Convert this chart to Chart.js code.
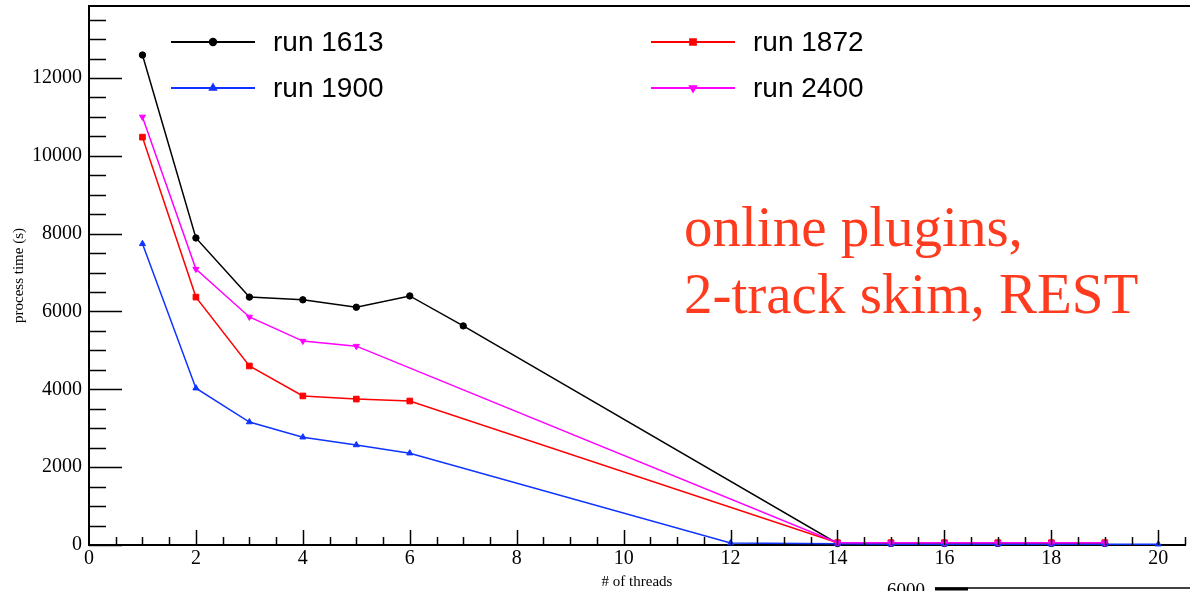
<!DOCTYPE html>
<html>
<head>
<meta charset="utf-8">
<script src="https://cdn.jsdelivr.net/npm/chart.js@4"></script>
<style>
  html, body { margin: 0; padding: 0; background: #fff; }
  #wrap { position: relative; width: 1190px; height: 591px; }
</style>
</head>
<body>
<div id="wrap"><canvas id="threadsChart" width="1190" height="591"></canvas></div>
<script>
// Process time vs number of threads, per run
const threads1613 = [1, 2, 3, 4, 5, 6, 7, 14, 15, 16, 17, 18, 19];
const time1613 = [12590, 7890, 6370, 6300, 6110, 6400, 5630, 40, 40, 40, 40, 40, 40];

const threads1872 = [1, 2, 3, 4, 5, 6, 14, 15, 16, 17, 18, 19];
const time1872 = [10480, 6370, 4600, 3830, 3750, 3700, 60, 60, 60, 60, 60, 60];

const threads1900 = [1, 2, 3, 4, 5, 6, 12, 14, 15, 16, 17, 18, 19, 20];
const time1900 = [7740, 4030, 3160, 2770, 2570, 2360, 50, 30, 20, 20, 20, 20, 20, 20];

const threads2400 = [1, 2, 3, 4, 5, 14, 15, 16, 17, 18, 19];
const time2400 = [11000, 7090, 5860, 5240, 5110, 60, 60, 60, 60, 60, 60];

const runLabels = ['run 1613', 'run 1872', 'run 1900', 'run 2400'];
const xTickValues = [0, 2, 4, 6, 8, 10, 12, 14, 16, 18, 20];
const yTickValues = [0, 2000, 4000, 6000, 8000, 10000, 12000];

function toPoints(xs, ys) {
    return xs.map((x, i) => ({ x: x, y: ys[i] }));
}

const serif = '"Liberation Serif", "DejaVu Serif", serif';
const sans = '"Liberation Sans", Arial, sans-serif';

const seriesStyle = [
    { color: '#000000', point: 'circle', radius: 3.2, rotation: 0, order: 3 },
    { color: '#ff0000', point: 'rect', radius: 4, rotation: 0, order: 2 },
    { color: '#1034ff', point: 'triangle', radius: 3.5, rotation: 0, order: 1 },
    { color: '#ff00ff', point: 'triangle', radius: 3.5, rotation: 180, order: 0 }
];

// Inward ticks, frame, legend and the big annotation (ROOT style)
const decorPlugin = {
    id: 'decor',
    afterDraw(chart) {
        const ctx = chart.ctx;
        const xs = chart.scales.x;
        const ys = chart.scales.y;
        const left = xs.left, bottom = ys.bottom, top = ys.top;
        ctx.save();
        ctx.strokeStyle = '#000';
        ctx.lineWidth = 1.5;

        // y ticks
        for (let v = 0; v <= 13500; v += 500) {
            const py = Math.round(ys.getPixelForValue(v)) + 0.5;
            const len = v % 2000 === 0 ? 33 : 17;
            ctx.beginPath();
            ctx.moveTo(left, py);
            ctx.lineTo(left + len, py);
            ctx.stroke();
        }
        // x ticks
        for (let v = 0.5; v <= 20.5; v += 0.5) {
            const px = Math.round(xs.getPixelForValue(v)) + 0.5;
            const len = v % 2 === 0 ? 15 : 8;
            ctx.beginPath();
            ctx.moveTo(px, bottom);
            ctx.lineTo(px, bottom - len);
            ctx.stroke();
        }
        // top frame
        ctx.lineWidth = 2;
        ctx.beginPath();
        ctx.moveTo(left, top);
        ctx.lineTo(chart.width, top);
        ctx.stroke();

        // legend
        const legendPos = [
            { x: 171, y: 42 }, { x: 651, y: 42 },
            { x: 171, y: 88 }, { x: 651, y: 88 }
        ];
        ctx.font = '28px ' + sans;
        ctx.textBaseline = 'middle';
        runLabels.forEach((label, i) => {
            const p = legendPos[i];
            const st = seriesStyle[i];
            ctx.strokeStyle = st.color;
            ctx.fillStyle = st.color;
            ctx.lineWidth = 2;
            ctx.beginPath();
            ctx.moveTo(p.x, p.y);
            ctx.lineTo(p.x + 84, p.y);
            ctx.stroke();
            Chart.helpers.drawPoint(ctx, {
                pointStyle: st.point, radius: st.radius, rotation: st.rotation, borderWidth: 1
            }, p.x + 42, p.y);
            ctx.fillStyle = '#000';
            ctx.fillText(label, p.x + 102, p.y + 1);
        });

        // annotation
        ctx.fillStyle = '#ff3b1f';
        ctx.font = '57px ' + serif;
        ctx.textBaseline = 'alphabetic';
        ctx.fillText('online plugins,', 684, 246);
        ctx.fillText('2-track skim, REST', 684, 313);

        // fragment of the next plot peeking in at the bottom
        ctx.fillStyle = '#000';
        ctx.font = '19px ' + serif;
        ctx.fillText('6000', 887, 596);
        ctx.strokeStyle = '#000';
        ctx.lineWidth = 1.5;
        ctx.beginPath();
        ctx.moveTo(935, 588);
        ctx.lineTo(1190, 588);
        ctx.stroke();
        ctx.lineWidth = 3;
        ctx.beginPath();
        ctx.moveTo(935, 589);
        ctx.lineTo(968, 589);
        ctx.stroke();
        ctx.restore();
    }
};

const datasets = [
    toPoints(threads1613, time1613),
    toPoints(threads1872, time1872),
    toPoints(threads1900, time1900),
    toPoints(threads2400, time2400)
].map((pts, i) => ({
    label: runLabels[i],
    data: pts,
    order: seriesStyle[i].order,
    borderColor: seriesStyle[i].color,
    backgroundColor: seriesStyle[i].color,
    borderWidth: 1.5,
    pointStyle: seriesStyle[i].point,
    pointRadius: seriesStyle[i].radius,
    pointRotation: seriesStyle[i].rotation,
    pointBorderWidth: 1,
    tension: 0
}));

new Chart(document.getElementById('threadsChart').getContext('2d'), {
    type: 'line',
    data: { datasets: datasets },
    plugins: [decorPlugin],
    options: {
        responsive: false,
        animation: false,
        clip: false,
        layout: { padding: { top: 6, right: 0, left: 0, bottom: 0 } },
        plugins: { legend: { display: false }, tooltip: { enabled: false } },
        scales: {
            x: {
                type: 'linear',
                min: 0,
                max: 20.5,
                grid: { display: false, drawTicks: false },
                border: { display: true, color: '#000', width: 2 },
                afterBuildTicks(scale) {
                    scale.ticks = xTickValues.map(v => ({ value: v }));
                },
                ticks: {
                    autoSkip: false,
                    maxRotation: 0,
                    padding: 2,
                    color: '#000',
                    font: { family: serif, size: 20 },
                    callback: v => String(v)
                },
                title: {
                    display: true,
                    text: '# of threads',
                    color: '#000',
                    font: { family: serif, size: 15 },
                    padding: { top: 0, bottom: 0 }
                },
                afterFit(scale) {
                    scale.height = 46;
                    scale.paddingLeft = 0;
                    scale.paddingRight = 0;
                }
            },
            y: {
                min: 0,
                max: 13850,
                grid: { display: false, drawTicks: false },
                border: { display: true, color: '#000', width: 2 },
                afterBuildTicks(scale) {
                    scale.ticks = yTickValues.map(v => ({ value: v }));
                },
                ticks: {
                    autoSkip: false,
                    padding: 7,
                    color: '#000',
                    font: { family: serif, size: 20 },
                    callback: v => String(v)
                },
                title: {
                    display: true,
                    text: 'process time (s)',
                    color: '#000',
                    font: { family: serif, size: 15 },
                    padding: { top: 10, bottom: 0 }
                },
                afterFit(scale) {
                    scale.width = 89;
                    scale.paddingTop = 0;
                    scale.paddingBottom = 0;
                }
            }
        }
    }
});
</script>
</body>
</html>
